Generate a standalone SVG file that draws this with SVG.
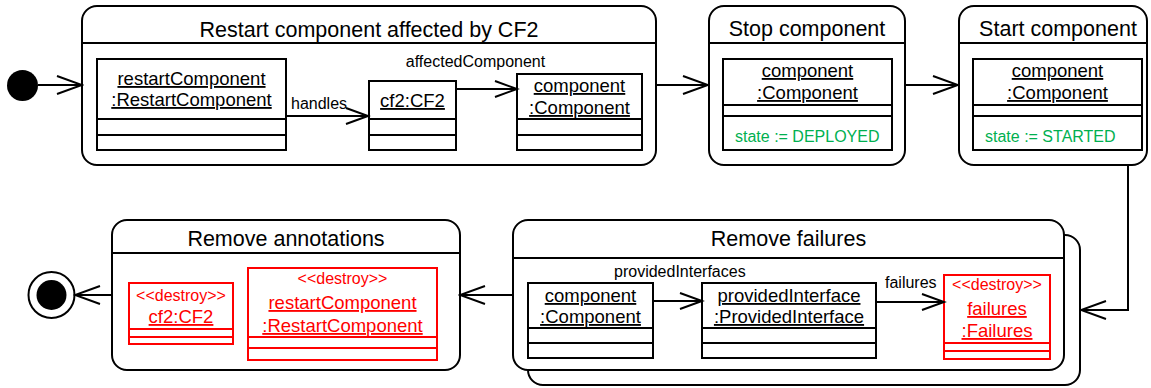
<svg xmlns="http://www.w3.org/2000/svg" width="1151" height="388" viewBox="0 0 1151 388">
<style>
text{font-family:"Liberation Sans",Arial,sans-serif;}
.st{fill:#fff;stroke:#000;stroke-width:2;}
.sep{stroke:#000;stroke-width:2;fill:none;}
.ob{fill:#fff;stroke:#000;stroke-width:2;}
.obr{fill:#fff;stroke:#ff0000;stroke-width:2;}
.sepr{stroke:#ff0000;stroke-width:2;fill:none;}
.title{font-size:21.5px;fill:#000;text-anchor:middle;}
.nm{font-size:18.5px;fill:#000;text-anchor:middle;text-decoration:underline;}
.nmr{font-size:18.5px;fill:#ff0000;text-anchor:middle;text-decoration:underline;}
.ster{font-size:16px;fill:#ff0000;text-anchor:middle;}
.grn{font-size:16px;fill:#00b050;}
.lbl{font-size:16px;fill:#000;}
.cn{stroke:#000;stroke-width:2;fill:none;}
</style>
<defs>
<marker id="arr" viewBox="0 0 28 20" refX="26" refY="10" markerWidth="28" markerHeight="20" markerUnits="userSpaceOnUse" orient="auto">
<path d="M1,1 L26,10 L1,19" fill="none" stroke="#000" stroke-width="2"/>
</marker>
<marker id="arrs" viewBox="0 0 26 20" refX="23" refY="10" markerWidth="26" markerHeight="20" markerUnits="userSpaceOnUse" orient="auto">
<path d="M1,2 L23,10 L1,18" fill="none" stroke="#000" stroke-width="2"/>
</marker>
</defs>

<g id="initial">
<circle cx="22.5" cy="85.5" r="15.5" fill="#000"/>
</g>

<g id="final">
<circle cx="51.5" cy="295" r="23" fill="#fff" stroke="#000" stroke-width="2"/>
<circle cx="51.5" cy="295" r="15" fill="#000"/>
</g>

<g id="state-restart">
<rect class="st" x="82" y="6" width="574" height="159" rx="15"/>
<line class="sep" x1="82" y1="43" x2="656" y2="43"/>
<text class="title" x="369" y="36.5">Restart component affected by CF2</text>
<g id="obj-restartComponent">
<rect class="ob" x="97" y="59" width="189" height="91"/>
<line class="sep" x1="97" y1="119" x2="286" y2="119"/>
<line class="sep" x1="97" y1="135" x2="286" y2="135"/>
<text class="nm" x="191.5" y="85">restartComponent</text>
<text class="nm" x="191.5" y="106">:RestartComponent</text>
</g>
<g id="obj-cf2">
<rect class="ob" x="369" y="81" width="87" height="69"/>
<line class="sep" x1="369" y1="119" x2="456" y2="119"/>
<line class="sep" x1="369" y1="135" x2="456" y2="135"/>
<text class="nm" x="412.5" y="107">cf2:CF2</text>
</g>
<g id="obj-component1">
<rect class="ob" x="517" y="74" width="125" height="76"/>
<line class="sep" x1="517" y1="119" x2="642" y2="119"/>
<line class="sep" x1="517" y1="135" x2="642" y2="135"/>
<text class="nm" x="579.5" y="92">component</text>
<text class="nm" x="579.5" y="114">:Component</text>
</g>
</g>

<g id="state-stop">
<rect class="st" x="709" y="6" width="196" height="159" rx="15"/>
<line class="sep" x1="709" y1="43" x2="905" y2="43"/>
<text class="title" x="807" y="36">Stop component</text>
<g id="obj-component2">
<rect class="ob" x="723" y="59" width="169" height="91"/>
<line class="sep" x1="723" y1="105" x2="892" y2="105"/>
<line class="sep" x1="723" y1="116" x2="892" y2="116"/>
<text class="nm" x="807.5" y="77">component</text>
<text class="nm" x="807.5" y="99">:Component</text>
<text class="grn" x="735" y="142">state := DEPLOYED</text>
</g>
</g>

<g id="state-start">
<rect class="st" x="959" y="6" width="188" height="159" rx="15"/>
<line class="sep" x1="959" y1="43" x2="1147" y2="43"/>
<text class="title" x="1058" y="36">Start component</text>
<g id="obj-component3">
<rect class="ob" x="973" y="59" width="169" height="91"/>
<line class="sep" x1="973" y1="105" x2="1142" y2="105"/>
<line class="sep" x1="973" y1="116" x2="1142" y2="116"/>
<text class="nm" x="1057.5" y="77">component</text>
<text class="nm" x="1057.5" y="99">:Component</text>
<text class="grn" x="985" y="142">state := STARTED</text>
</g>
</g>

<g id="state-removefailures">
<rect class="st" x="528" y="235" width="552" height="150" rx="15"/>
<rect class="st" x="513" y="220" width="551" height="150" rx="15"/>
<line class="sep" x1="513" y1="258" x2="1064" y2="258"/>
<text class="title" x="788.5" y="246">Remove failures</text>
<g id="obj-component4">
<rect class="ob" x="528" y="283" width="125" height="75"/>
<line class="sep" x1="528" y1="328" x2="653" y2="328"/>
<line class="sep" x1="528" y1="343" x2="653" y2="343"/>
<text class="nm" x="590.5" y="302">component</text>
<text class="nm" x="590.5" y="323">:Component</text>
</g>
<g id="obj-providedInterface">
<rect class="ob" x="702" y="283" width="174" height="75"/>
<line class="sep" x1="702" y1="328" x2="876" y2="328"/>
<line class="sep" x1="702" y1="343" x2="876" y2="343"/>
<text class="nm" x="789" y="302">providedInterface</text>
<text class="nm" x="789" y="323">:ProvidedInterface</text>
</g>
<g id="obj-failures">
<rect class="obr" x="944" y="275" width="106" height="84"/>
<line class="sepr" x1="944" y1="343" x2="1050" y2="343"/>
<line class="sepr" x1="944" y1="351" x2="1050" y2="351"/>
<text class="ster" x="997" y="290">&lt;&lt;destroy&gt;&gt;</text>
<text class="nmr" x="997" y="315">failures</text>
<text class="nmr" x="997" y="337">:Failures</text>
</g>
</g>

<g id="state-removeannotations">
<rect class="st" x="112" y="220" width="348" height="150" rx="15"/>
<line class="sep" x1="112" y1="253" x2="460" y2="253"/>
<text class="title" x="286" y="245.5">Remove annotations</text>
<g id="obj-cf2-destroy">
<rect class="obr" x="129" y="283" width="104" height="61"/>
<line class="sepr" x1="129" y1="329" x2="233" y2="329"/>
<line class="sepr" x1="129" y1="337" x2="233" y2="337"/>
<text class="ster" x="181" y="301">&lt;&lt;destroy&gt;&gt;</text>
<text class="nmr" x="181" y="323">cf2:CF2</text>
</g>
<g id="obj-restartComponent-destroy">
<rect class="obr" x="248" y="268" width="189" height="92"/>
<line class="sepr" x1="248" y1="337" x2="437" y2="337"/>
<line class="sepr" x1="248" y1="348" x2="437" y2="348"/>
<text class="ster" x="342.5" y="284">&lt;&lt;destroy&gt;&gt;</text>
<text class="nmr" x="342.5" y="309">restartComponent</text>
<text class="nmr" x="342.5" y="332">:RestartComponent</text>
</g>
</g>

<g id="connectors">
<line class="cn" x1="38" y1="85" x2="82" y2="85" marker-end="url(#arr)"/>
<line class="cn" x1="286" y1="116" x2="368" y2="116" marker-end="url(#arrs)"/>
<text class="lbl" x="291" y="109">handles</text>
<line class="cn" x1="456" y1="89" x2="517" y2="89" marker-end="url(#arrs)"/>
<text class="lbl" x="475.5" y="67" text-anchor="middle">affectedComponent</text>
<line class="cn" x1="656" y1="85" x2="708" y2="85" marker-end="url(#arr)"/>
<line class="cn" x1="905" y1="85" x2="958" y2="85" marker-end="url(#arr)"/>
<polyline class="cn" points="1128,165 1128,310 1081,310" marker-end="url(#arr)"/>
<line class="cn" x1="653" y1="301" x2="702" y2="301" marker-end="url(#arrs)"/>
<text class="lbl" x="614" y="277">providedInterfaces</text>
<line class="cn" x1="876" y1="302" x2="944" y2="302" marker-end="url(#arrs)"/>
<text class="lbl" x="885" y="288">failures</text>
<line class="cn" x1="513" y1="295" x2="460" y2="295" marker-end="url(#arr)"/>
<line class="cn" x1="112" y1="295" x2="75" y2="295" marker-end="url(#arr)"/>
</g>
</svg>
